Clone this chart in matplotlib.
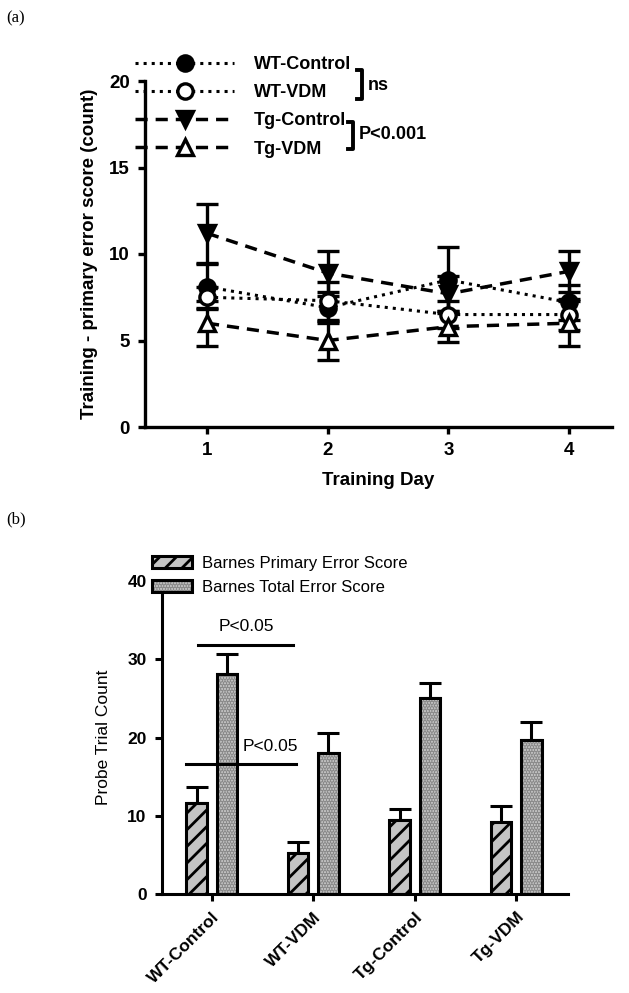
import matplotlib
matplotlib.use("Agg")
import matplotlib.pyplot as plt
from matplotlib.lines import Line2D
from matplotlib.patches import Patch
from matplotlib.legend_handler import HandlerTuple
import numpy as np

plt.rcParams['font.family'] = ['Liberation Sans', 'DejaVu Sans']
plt.rcParams['hatch.linewidth'] = 2.0

# ---------------- data: panel (a) ----------------
days = [1, 2, 3, 4]
day_labels = ["1", "2", "3", "4"]
wt_control = [8.1, 6.9, 8.5, 7.2]
wt_control_err = [1.3, 0.9, 1.9, 1.0]
wt_vdm = [7.5, 7.3, 6.5, 6.5]
wt_vdm_err = [0.6, 1.1, 0.8, 0.9]
tg_control = [11.2, 8.9, 7.7, 9.0]
tg_control_err = [1.7, 1.3, 1.0, 1.2]
tg_vdm = [6.0, 5.0, 5.8, 6.0]
tg_vdm_err = [1.3, 1.1, 0.9, 1.3]
a_yticks = [0, 5, 10, 15, 20]

# ---------------- data: panel (b) ----------------
groups = ["WT-Control", "WT-VDM", "Tg-Control", "Tg-VDM"]
primary = [11.6, 5.2, 9.5, 9.2]
primary_err = [2.1, 1.4, 1.4, 2.0]
total = [28.1, 18.0, 25.0, 19.7]
total_err = [2.6, 2.6, 2.0, 2.3]
b_yticks = [0, 10, 20, 30, 40]

W, H = 629, 993
fig = plt.figure(figsize=(W / 100, H / 100), dpi=100)

def fx(px):
    return px / W

def fy(py):
    return 1 - py / H

FA = 13.5  # panel (a) font size
FL = 13    # panel (a) legend font size

# ================= panel (a) =================
ax1 = fig.add_axes([fx(145), fy(427), fx(612 - 145), (427 - 81) / H])
dash = (0, (3.5, 2.3))
series = [
    (wt_control, wt_control_err, ':', 'o', 'black', 2.2),
    (wt_vdm, wt_vdm_err, ':', 'o', 'white', 2.2),
    (tg_control, tg_control_err, dash, 'v', 'black', 2.5),
    (tg_vdm, tg_vdm_err, dash, '^', 'white', 2.5),
]
for vals, err, ls, mk, fc, lw in series:
    ax1.plot(days, vals, linestyle=ls, color='black', lw=lw, zorder=2)
    ax1.errorbar(days, vals, yerr=err, fmt='none', ecolor='black',
                 elinewidth=2.4, capsize=8, capthick=2.4, zorder=3)
for vals, err, ls, mk, fc, lw in series:
    ax1.plot(days, vals, linestyle='none', marker=mk, markersize=11,
             markerfacecolor=fc, markeredgecolor='black', markeredgewidth=2.4,
             zorder=4)

ax1.set_xlim(1 - (207 - 145) / 120.7, 1 + (612 - 207) / 120.7)
ax1.set_ylim(0, 20)
ax1.set_xticks(days)
ax1.set_xticklabels(day_labels)
ax1.set_yticks(a_yticks)
for s in ['top', 'right']:
    ax1.spines[s].set_visible(False)
for s in ['left', 'bottom']:
    ax1.spines[s].set_linewidth(2.4)
ax1.tick_params(width=2.4, length=5, labelsize=FA, pad=6)
for lab in ax1.get_xticklabels() + ax1.get_yticklabels():
    lab.set_fontweight('bold')
ax1.set_xlabel("Training Day", fontsize=FA, fontweight='bold', labelpad=9)
ax1.set_ylabel("Training - primary error score (count)", fontsize=FA,
               fontweight='bold', labelpad=8)

handles = [
    Line2D([], [], linestyle=':', color='black', lw=2.2, marker='o',
           markersize=11, markerfacecolor='black', markeredgewidth=2.4),
    Line2D([], [], linestyle=':', color='black', lw=2.2, marker='o',
           markersize=11, markerfacecolor='white', markeredgewidth=2.4),
    Line2D([], [], linestyle=dash, color='black', lw=2.5, marker='v',
           markersize=11, markerfacecolor='black', markeredgewidth=2.4),
    Line2D([], [], linestyle=dash, color='black', lw=2.5, marker='^',
           markersize=11, markerfacecolor='white', markeredgewidth=2.4),
]
fig.legend(handles, ["WT-Control", "WT-VDM", "Tg-Control", "Tg-VDM"],
           loc='upper left', bbox_to_anchor=(fx(135), fy(56)),
           frameon=False, borderpad=0, borderaxespad=0, handlelength=5.5,
           handletextpad=1.1, labelspacing=0.62,
           prop={'size': FL, 'weight': 'bold'})

def bracket(x, y0, y1):
    fig.add_artist(Line2D([fx(x - 5), fx(x), fx(x), fx(x - 5)],
                          [fy(y0), fy(y0), fy(y1), fy(y1)],
                          color='black', lw=2.8, transform=fig.transFigure))

bracket(362, 70, 99)
fig.text(fx(368), fy(85), "ns", fontsize=FL, fontweight='bold',
         va='center', ha='left')
bracket(353, 122, 149)
fig.text(fx(359), fy(134), "P<0.001", fontsize=FL, fontweight='bold',
         va='center', ha='left')

fig.text(fx(6), fy(18), "(a)", fontsize=12, family='Liberation Serif',
         va='center', ha='left')
fig.text(fx(6), fy(519), "(b)", fontsize=12, family='Liberation Serif',
         va='center', ha='left')

# ================= panel (b) =================
ax2 = fig.add_axes([fx(162), fy(894), fx(568 - 162), (894 - 581) / H])
x = np.arange(len(groups))
bw = 0.2
off = 0.15
ax2.bar(x - off, primary, bw, facecolor='#c4c4c4', edgecolor='black',
        linewidth=2.2, hatch='//', zorder=2)
ax2.bar(x + off, total, bw, facecolor='#c8c8c8', edgecolor='#8a8a8a',
        linewidth=0, hatch='......', zorder=2)
ax2.bar(x + off, total, bw, facecolor='none', edgecolor='black',
        linewidth=2.2, zorder=3)
ax2.errorbar(x - off, primary, yerr=[np.zeros(4), primary_err], fmt='none',
             ecolor='black', elinewidth=2.2, capsize=8, capthick=2.2, zorder=1)
ax2.errorbar(x + off, total, yerr=[np.zeros(4), total_err], fmt='none',
             ecolor='black', elinewidth=2.2, capsize=8, capthick=2.2, zorder=1)

ax2.set_xlim(-0.49, 3.51)
ax2.set_ylim(0, 40)
ax2.set_yticks(b_yticks)
ax2.set_xticks(x)
ax2.set_xticklabels(groups, rotation=45, ha='right', rotation_mode='anchor')
for s in ['top', 'right']:
    ax2.spines[s].set_visible(False)
for s in ['left', 'bottom']:
    ax2.spines[s].set_linewidth(2.2)
ax2.tick_params(width=2.2, length=5, labelsize=12.5, pad=6)
for lab in ax2.get_xticklabels() + ax2.get_yticklabels():
    lab.set_fontweight('bold')
ax2.set_ylabel("Probe Trial Count", fontsize=12.5, labelpad=12)

# significance lines
ax2.plot([-0.14, 0.80], [31.8, 31.8], color='black', lw=2.2, zorder=5)
ax2.text(0.34, 33.2, "P<0.05", fontsize=12.5, ha='center', va='bottom')
ax2.plot([-0.25, 0.83], [16.6, 16.6], color='black', lw=2.2, zorder=5)
ax2.text(0.58, 17.9, "P<0.05", fontsize=12.5, ha='center', va='bottom')

h1 = Patch(facecolor='#c4c4c4', edgecolor='black', linewidth=2.2, hatch='//')
h2a = Patch(facecolor='#c8c8c8', edgecolor='#8a8a8a', linewidth=0,
            hatch='......')
h2b = Patch(facecolor='none', edgecolor='black', linewidth=2.2)
fig.legend([h1, (h2a, h2b)],
           ["Barnes Primary Error Score", "Barnes Total Error Score"],
           handler_map={tuple: HandlerTuple(ndivide=1, pad=0)},
           loc='upper left', bbox_to_anchor=(fx(152), fy(556)),
           frameon=False, borderpad=0, borderaxespad=0, handlelength=2.4,
           handleheight=0.75, handletextpad=0.6, labelspacing=0.55,
           prop={'size': 12})

fig.savefig("out.png", dpi=100)
